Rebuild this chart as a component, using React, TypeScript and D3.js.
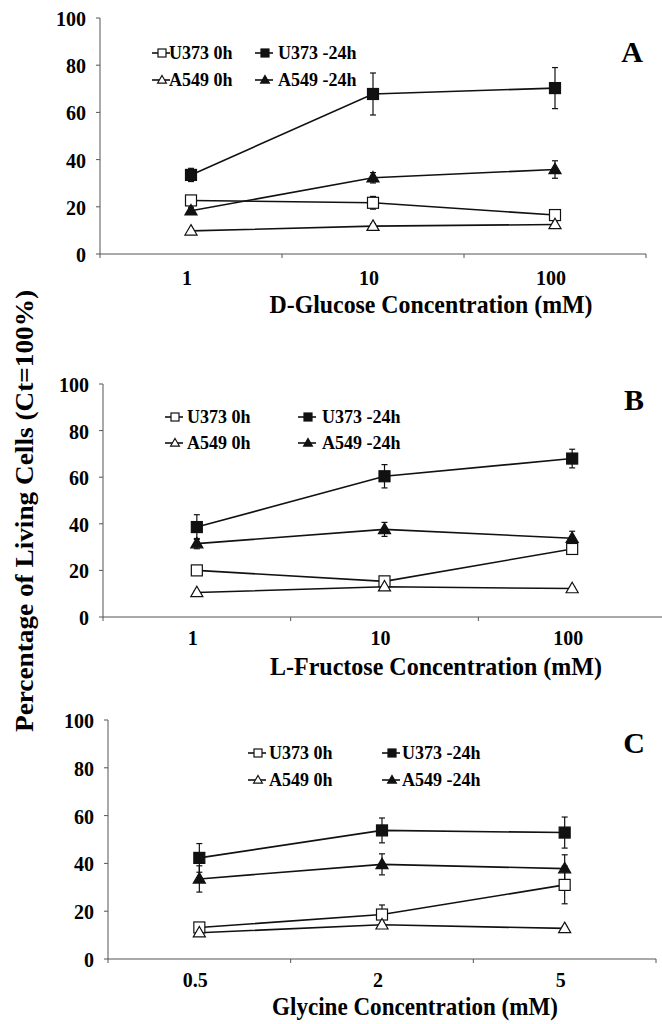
import React from 'react';
import * as d3 from 'd3';

const FONT = '"Liberation Serif", "Times New Roman", serif';

// series names, shared by all three panels
const seriesNames = ['U373 0h', 'U373 -24h', 'A549 0h', 'A549 -24h'];
const yTicks = [0, 20, 40, 60, 80, 100];

// A: D-Glucose
const glucoseCats = ['1', '10', '100'];
const glucoseU373_0h = [22.7, 21.7, 16.5];
const glucoseU373_0hErr = [1.5, 2.7, 1.2];
const glucoseU373_24h = [33.5, 67.8, 70.3];
const glucoseU373_24hErr = [2.8, 8.9, 8.7];
const glucoseA549_0h = [9.8, 11.8, 12.5];
const glucoseA549_0hErr = [0.8, 1.0, 1.0];
const glucoseA549_24h = [18.3, 32.3, 35.8];
const glucoseA549_24hErr = [1.5, 2.2, 3.7];

// B: L-Fructose
const fructoseCats = ['1', '10', '100'];
const fructoseU373_0h = [20.0, 15.3, 29.2];
const fructoseU373_0hErr = [1.0, 1.5, 2.0];
const fructoseU373_24h = [38.6, 60.4, 68.0];
const fructoseU373_24hErr = [5.3, 5.0, 4.0];
const fructoseA549_0h = [10.5, 13.0, 12.2];
const fructoseA549_0hErr = [0.8, 1.0, 0.8];
const fructoseA549_24h = [31.5, 37.6, 33.8];
const fructoseA549_24hErr = [2.2, 3.0, 3.0];

// C: Glycine
const glycineCats = ['0.5', '2', '5'];
const glycineU373_0h = [13.2, 18.6, 31.0];
const glycineU373_0hErr = [1.5, 4.0, 7.9];
const glycineU373_24h = [42.3, 53.8, 52.9];
const glycineU373_24hErr = [6.0, 5.2, 6.5];
const glycineA549_0h = [11.0, 14.3, 12.8];
const glycineA549_0hErr = [0.8, 1.0, 0.8];
const glycineA549_24h = [33.5, 39.6, 37.8];
const glycineA549_24hErr = [5.5, 4.4, 5.8];

const markerKind = [
  { shape: 'square', filled: false },
  { shape: 'square', filled: true },
  { shape: 'triangle', filled: false },
  { shape: 'triangle', filled: true },
];

function Marker({ x, y, kind, size = 11 }) {
  const fill = kind.filled ? '#111' : '#fff';
  if (kind.shape === 'square') {
    return <rect x={x - size / 2} y={y - size / 2} width={size} height={size} fill={fill} stroke="#111" strokeWidth={1.2} />;
  }
  const h = size * 0.95;
  const w = size * 1.1;
  const pts = `${x},${y - h * 0.6} ${x + w / 2},${y + h * 0.4} ${x - w / 2},${y + h * 0.4}`;
  return <polygon points={pts} fill={fill} stroke="#111" strokeWidth={1.2} />;
}

function Panel({ layout, cats, values, errors }) {
  const x = d3.scaleBand().domain(cats).range([layout.left, layout.right]).padding(0);
  const y = d3.scaleLinear().domain([0, 100]).range([layout.bottom, layout.top]);
  const cx = (c) => x(c) + x.bandwidth() / 2;
  const line = d3.line().x((d) => d[0]).y((d) => d[1]);
  const bounds = cats.map((c) => x(c)).concat([layout.right]);

  return (
    <g>
      {/* axes */}
      <line x1={layout.left} x2={layout.left} y1={layout.top} y2={layout.bottom} stroke="#555" strokeWidth={1} />
      <line x1={layout.left} x2={layout.right} y1={layout.bottom} y2={layout.bottom} stroke="#555" strokeWidth={1} />
      {yTicks.map((t) => (
        <g key={t}>
          <line x1={layout.left - 4} x2={layout.left} y1={y(t)} y2={y(t)} stroke="#555" />
          <text x={layout.left - 14} y={y(t)} dy="0.4em" textAnchor="end" fontSize={20} fontWeight="bold" fontFamily={FONT}>{t}</text>
        </g>
      ))}
      {bounds.map((b, i) => (
        <line key={i} x1={b} x2={b} y1={layout.bottom} y2={layout.bottom + 4} stroke="#555" />
      ))}
      {cats.map((c) => (
        <text key={c} x={cx(c) - 4} y={layout.tickBase} textAnchor="middle" fontSize={20} fontWeight="bold" fontFamily={FONT}>{c}</text>
      ))}

      {/* series lines */}
      {values.map((vals, si) => (
        <path key={si} d={line(vals.map((v, i) => [cx(cats[i]), y(v)]))} fill="none" stroke="#111" strokeWidth={1.6} />
      ))}
      {/* error bars */}
      {values.map((vals, si) =>
        vals.map((v, i) => {
          const px = cx(cats[i]);
          const e = errors[si][i];
          return (
            <g key={`${si}-${i}`} stroke="#111" strokeWidth={1.2}>
              <line x1={px} x2={px} y1={y(v + e)} y2={y(v - e)} />
              <line x1={px - 3} x2={px + 3} y1={y(v + e)} y2={y(v + e)} />
              <line x1={px - 3} x2={px + 3} y1={y(v - e)} y2={y(v - e)} />
            </g>
          );
        })
      )}
      {/* markers */}
      {values.map((vals, si) =>
        vals.map((v, i) => <Marker key={`m${si}-${i}`} x={cx(cats[i])} y={y(v)} kind={markerKind[si]} />)
      )}

      {/* legend */}
      {seriesNames.map((name, si) => {
        const lx = layout.legendX[si % 2 === 0 ? 0 : 1];
        const ly = layout.legendY[si < 2 ? 0 : 1];
        return (
          <g key={name}>
            <line x1={lx} x2={lx + 18} y1={ly} y2={ly} stroke="#111" strokeWidth={1.6} />
            <Marker x={lx + 10} y={ly} kind={markerKind[si]} size={8} />
            <text x={lx + layout.legendGap[si % 2]} y={ly} dy="0.36em" fontSize={18} fontWeight="bold" fontFamily={FONT}>{name}</text>
          </g>
        );
      })}

      <text x={layout.letter[0]} y={layout.letter[1]} textAnchor="middle" fontSize={30} fontWeight="bold" fontFamily={FONT}>{layout.letterText}</text>
      <text x={layout.title[0]} y={layout.title[1]} textAnchor="middle" fontSize={26} fontWeight="bold" fontFamily={FONT}
        textLength={layout.titleLen} lengthAdjust="spacingAndGlyphs">{layout.titleText}</text>
    </g>
  );
}

const layoutA = {
  left: 100, right: 646, top: 18, bottom: 254, tickBase: 285,
  legendX: [152, 255], legendY: [53, 80], legendGap: [17, 23],
  letter: [632, 62], letterText: 'A',
  title: [431, 313], titleLen: 323, titleText: 'D-Glucose Concentration (mM)',
};
const layoutB = {
  left: 103, right: 666, top: 384, bottom: 617, tickBase: 645,
  legendX: [165, 298], legendY: [417, 443], legendGap: [22, 24],
  letter: [634, 410], letterText: 'B',
  title: [436, 675], titleLen: 332, titleText: 'L-Fructose Concentration (mM)',
};
const layoutC = {
  left: 108, right: 656, top: 720, bottom: 959, tickBase: 987,
  legendX: [248, 382], legendY: [753, 780], legendGap: [21, 20],
  letter: [634, 753], letterText: 'C',
  title: [415, 1015], titleLen: 286, titleText: 'Glycine Concentration (mM)',
};

export default function App() {
  return (
    <svg width={662} height={1024} style={{ position: 'absolute', left: 0, top: 0, background: '#fff' }}>
      <rect width={662} height={1024} fill="#fff" />
      <Panel layout={layoutA} cats={glucoseCats}
        values={[glucoseU373_0h, glucoseU373_24h, glucoseA549_0h, glucoseA549_24h]}
        errors={[glucoseU373_0hErr, glucoseU373_24hErr, glucoseA549_0hErr, glucoseA549_24hErr]} />
      <Panel layout={layoutB} cats={fructoseCats}
        values={[fructoseU373_0h, fructoseU373_24h, fructoseA549_0h, fructoseA549_24h]}
        errors={[fructoseU373_0hErr, fructoseU373_24hErr, fructoseA549_0hErr, fructoseA549_24hErr]} />
      <Panel layout={layoutC} cats={glycineCats}
        values={[glycineU373_0h, glycineU373_24h, glycineA549_0h, glycineA549_24h]}
        errors={[glycineU373_0hErr, glycineU373_24hErr, glycineA549_0hErr, glycineA549_24hErr]} />
      <text transform="translate(33,511) rotate(-90)" textAnchor="middle" fontSize={26} fontWeight="bold" fontFamily={FONT}
        textLength={442} lengthAdjust="spacingAndGlyphs">Percentage of Living Cells (Ct=100%)</text>
    </svg>
  );
}
